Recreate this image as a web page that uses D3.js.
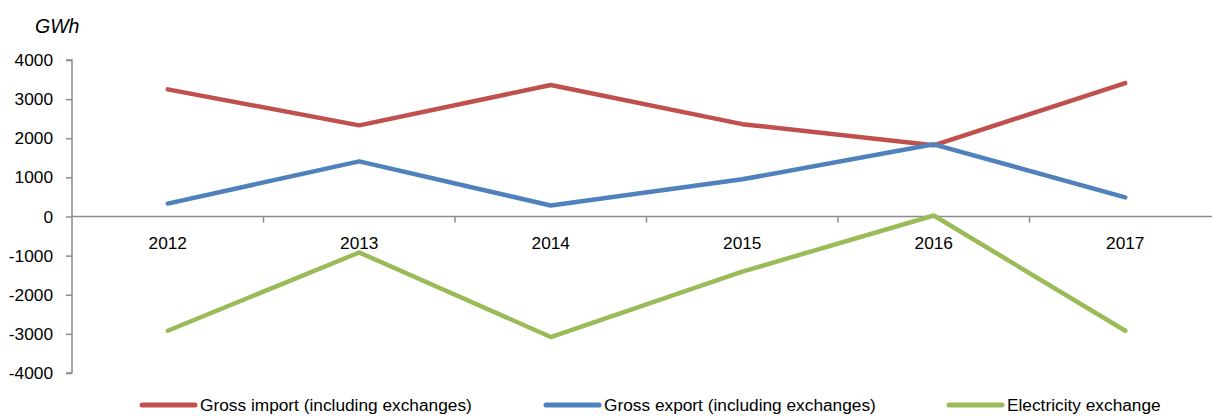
<!DOCTYPE html>
<html>
<head>
<meta charset="utf-8">
<script src="https://cdn.jsdelivr.net/npm/d3@7"></script>
<style>
  body { margin: 0; background: #fff; }
  svg { display: block; font-family: "Liberation Sans", Arial, sans-serif; }
  .axis path, .axis line { stroke: #8c8c8c; stroke-width: 1.5; }
  .axis text { font-size: 17.3px; fill: #000; }
</style>
</head>
<body>
<div id="chart"></div>
<script>
// Datos
const years = ["2012", "2013", "2014", "2015", "2016", "2017"];
const grossImport = [3250, 2330, 3360, 2360, 1820, 3410];
const grossExport = [330, 1410, 280, 950, 1845, 490];
const exchange = [-2920, -920, -3080, -1410, 25, -2920];
const yTicks = [4000, 3000, 2000, 1000, 0, -1000, -2000, -3000, -4000];

const series = [
  { name: "Gross import (including exchanges)", values: grossImport, color: "#C0504D" },
  { name: "Gross export (including exchanges)", values: grossExport, color: "#4F81BD" },
  { name: "Electricity exchange", values: exchange, color: "#9BBB59" },
];

const W = 1212, H = 416;

const svg = d3.select("#chart").append("svg")
  .attr("width", W)
  .attr("height", H);

// Escalas
const x = d3.scaleBand().domain(years).range([72, 1221]).paddingInner(0).paddingOuter(0);
const y = d3.scaleLinear().domain([-4000, 4000]).range([373, 60]);

// Eje Y
svg.append("g")
  .attr("class", "axis")
  .attr("transform", "translate(72,0)")
  .call(d3.axisLeft(y).tickValues(yTicks).tickSize(6).tickPadding(13).tickFormat((d) => String(d)))
  .call((g) => g.select(".domain").attr("d", `M-6,${y(4000)}H0V${y(-4000)}H-6`));

// Eje X en cero
const xAxis = svg.append("g")
  .attr("class", "axis")
  .attr("transform", `translate(0,${y(0)})`);
xAxis.append("line")
  .attr("x1", 72).attr("x2", W)
  .attr("y1", 0).attr("y2", 0);
xAxis.selectAll(".tick-mark")
  .data(years.slice(1))
  .enter()
  .append("line")
  .attr("x1", (d) => x(d)).attr("x2", (d) => x(d))
  .attr("y1", 0).attr("y2", 6);
xAxis.selectAll(".year")
  .data(years)
  .enter()
  .append("text")
  .attr("x", (d) => x(d) + x.bandwidth() / 2)
  .attr("y", 32)
  .attr("text-anchor", "middle")
  .text((d) => d);

// Unidad
svg.append("text")
  .attr("x", 35)
  .attr("y", 33)
  .attr("font-size", 19.5)
  .attr("font-style", "italic")
  .text("GWh");

// Lineas
const line = d3.line()
  .x((d, i) => x(years[i]) + x.bandwidth() / 2)
  .y((d) => y(d));

svg.selectAll(".series")
  .data(series)
  .enter()
  .append("path")
  .attr("class", "series")
  .attr("fill", "none")
  .attr("stroke", (d) => d.color)
  .attr("stroke-width", 4.5)
  .attr("stroke-linecap", "round")
  .attr("stroke-linejoin", "round")
  .attr("d", (d) => line(d.values));

// Leyenda
const legendX = [142, 546, 949];
const legend = svg.selectAll(".legend")
  .data(series)
  .enter()
  .append("g")
  .attr("class", "legend")
  .attr("transform", (d, i) => `translate(${legendX[i]},405)`);
legend.append("line")
  .attr("x1", 0).attr("x2", 53)
  .attr("stroke", (d) => d.color)
  .attr("stroke-width", 5)
  .attr("stroke-linecap", "round");
legend.append("text")
  .attr("x", 58)
  .attr("y", 6)
  .attr("font-size", 17.3)
  .text((d) => d.name);
</script>
</body>
</html>
